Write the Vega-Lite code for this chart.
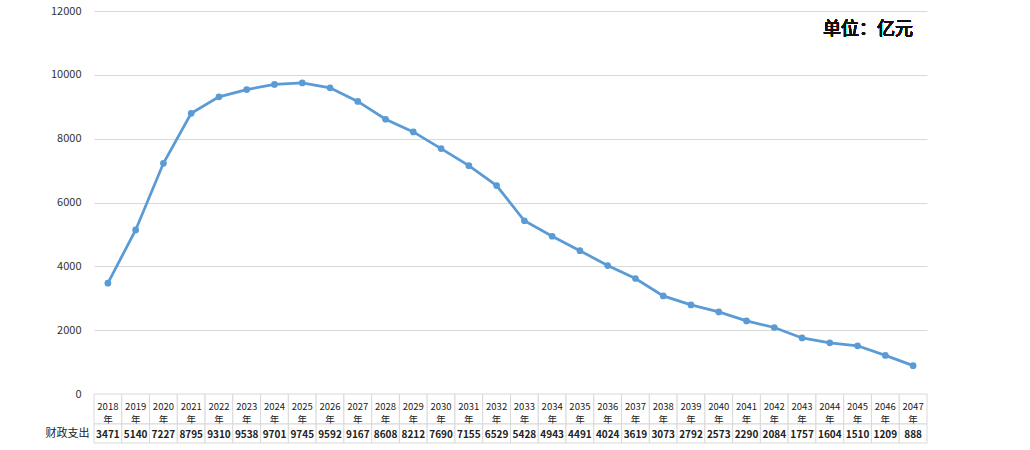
{
  "$schema": "https://vega.github.io/schema/vega-lite/v6.json",
  "padding": {"left": 45, "top": 5, "right": 5, "bottom": 5},
  "background": "white",
  "bounds": "flush",
  "config": {"view": {"stroke": null}, "font": "Noto Sans CJK SC"},
  "data": {"values": [
    {"year": "2018", "value": 3471}, {"year": "2019", "value": 5140}, {"year": "2020", "value": 7227},
    {"year": "2021", "value": 8795}, {"year": "2022", "value": 9310}, {"year": "2023", "value": 9538},
    {"year": "2024", "value": 9701}, {"year": "2025", "value": 9745}, {"year": "2026", "value": 9592},
    {"year": "2027", "value": 9167}, {"year": "2028", "value": 8608}, {"year": "2029", "value": 8212},
    {"year": "2030", "value": 7690}, {"year": "2031", "value": 7155}, {"year": "2032", "value": 6529},
    {"year": "2033", "value": 5428}, {"year": "2034", "value": 4943}, {"year": "2035", "value": 4491},
    {"year": "2036", "value": 4024}, {"year": "2037", "value": 3619}, {"year": "2038", "value": 3073},
    {"year": "2039", "value": 2792}, {"year": "2040", "value": 2573}, {"year": "2041", "value": 2290},
    {"year": "2042", "value": 2084}, {"year": "2043", "value": 1757}, {"year": "2044", "value": 1604},
    {"year": "2045", "value": 1510}, {"year": "2046", "value": 1209}, {"year": "2047", "value": 888}
  ]},
  "spacing": 0,
  "resolve": {"scale": {"x": "independent"}},
  "vconcat": [
    {
      "width": 833,
      "height": 383,
      "layer": [
        {
          "mark": {"type": "line", "color": "#5b9bd5", "strokeWidth": 2.75},
          "encoding": {
            "x": {"field": "year", "type": "ordinal", "scale": {"type": "point", "padding": 0.5}, "axis": null},
            "y": {"field": "value", "type": "quantitative", "scale": {"domain": [0, 12000]},
              "axis": {"values": [0, 2000, 4000, 6000, 8000, 10000, 12000], "format": "d", "title": null,
                "domain": false, "ticks": false, "labelPadding": 13, "labelFontSize": 11, "labelColor": "#333",
                "gridColor": "#d9d9d9", "gridWidth": 1}}
          }
        },
        {
          "mark": {"type": "point", "filled": true, "color": "#5b9bd5", "size": 45, "opacity": 1},
          "encoding": {
            "x": {"field": "year", "type": "ordinal", "scale": {"type": "point", "padding": 0.5}, "axis": null},
            "y": {"field": "value", "type": "quantitative"}
          }
        },
        {
          "mark": {"type": "text", "text": "单位：亿元", "align": "right", "baseline": "middle", "fontSize": 18, "fontWeight": "normal", "color": "#111"},
          "encoding": {
            "x": {"datum": "2047", "type": "ordinal"},
            "y": {"datum": 11400, "type": "quantitative"}
          }
        }
      ]
    },
    {
      "width": 833,
      "height": 30,
      "layer": [
        {
          "mark": {"type": "rect", "fill": "white", "stroke": "#d9d9d9", "strokeWidth": 1},
          "encoding": {
            "x": {"field": "year", "type": "ordinal", "scale": {"type": "band", "paddingInner": 0, "paddingOuter": 0}, "axis": null}
          }
        },
        {
          "transform": [{"calculate": "datum.year + '\\n年'", "as": "label"}],
          "mark": {"type": "text", "lineBreak": "\n", "fontSize": 9.5, "fontWeight": "normal", "color": "#222", "baseline": "middle", "lineHeight": 12.5, "dy": -2},
          "encoding": {
            "x": {"field": "year", "type": "ordinal", "axis": null},
            "text": {"field": "label"}
          }
        }
      ]
    },
    {
      "width": 833,
      "height": 19,
      "layer": [
        {
          "mark": {"type": "rect", "fill": "white", "stroke": "#d9d9d9", "strokeWidth": 1},
          "encoding": {
            "x": {"field": "year", "type": "ordinal", "scale": {"type": "band", "paddingInner": 0, "paddingOuter": 0}, "axis": null},
            "y": {"datum": "财政支出", "type": "nominal", "scale": {"paddingInner": 0, "paddingOuter": 0},
              "axis": {"title": null, "domain": false, "ticks": false, "labelPadding": 5, "labelFontSize": 11, "labelColor": "#222"}}
          }
        },
        {
          "mark": {"type": "text", "fontSize": 10, "fontWeight": "bold", "color": "#222", "baseline": "middle", "dy": 1},
          "encoding": {
            "x": {"field": "year", "type": "ordinal", "axis": null},
            "y": {"datum": "财政支出", "type": "nominal"},
            "text": {"field": "value", "type": "quantitative", "format": "d"}
          }
        }
      ]
    }
  ]
}
